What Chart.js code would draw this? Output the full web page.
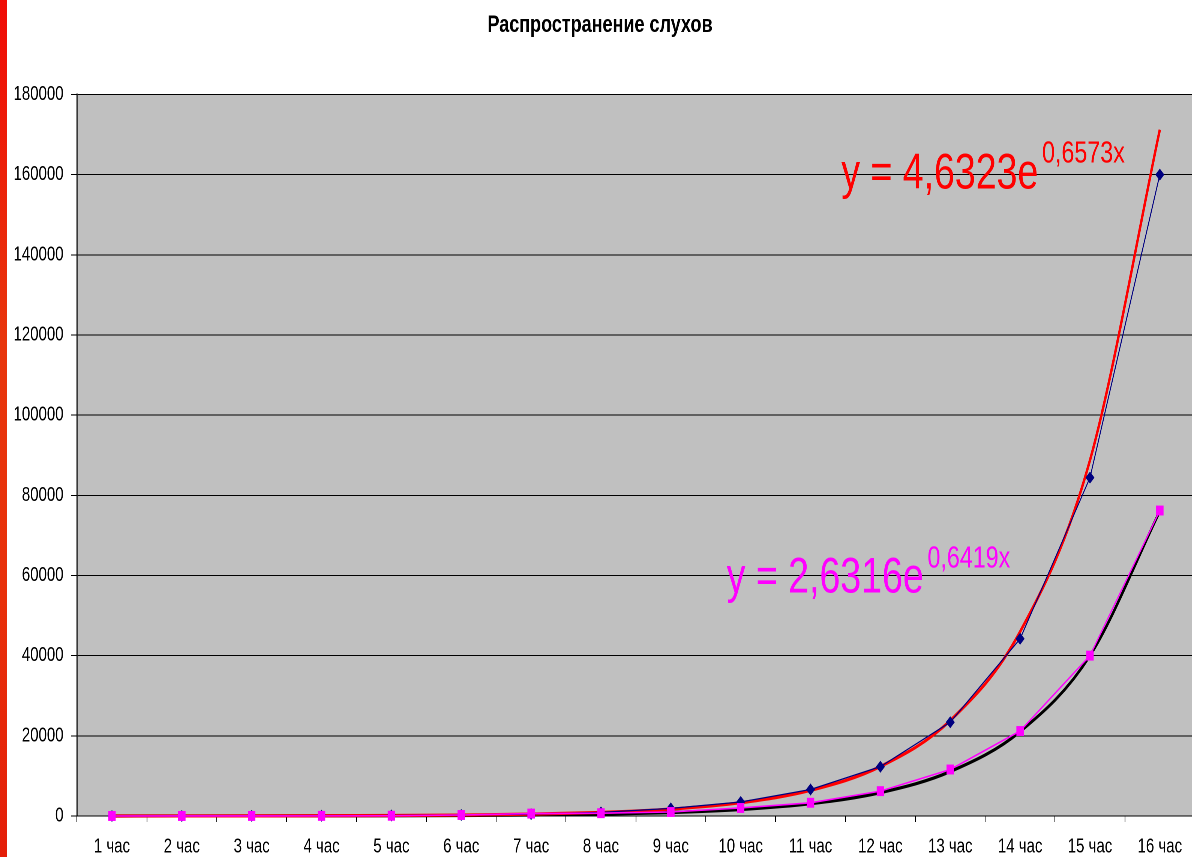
<!DOCTYPE html>
<html>
<head>
<meta charset="utf-8">
<script src="https://cdn.jsdelivr.net/npm/chart.js@4/dist/chart.umd.min.js"></script>
<style>
  html, body { margin: 0; padding: 0; background: #fff; overflow: hidden; }
  /* the original picture is stretched vertically, so the chart is drawn wider and squeezed back */
  #wrap { width: 1600px; height: 857px; transform: scaleX(0.75); transform-origin: 0 0; }
  #strip { position: fixed; left: 0; top: 0; width: 7px; height: 857px; z-index: 2;
           background: linear-gradient(#f00c06, #e8360c 40%, #e8300a 70%, #e41e08); }
</style>
</head>
<body>
<div id="strip"></div>
<div id="wrap"><canvas id="rumours"></canvas></div>
<script>
// Categories (hours)
var hours = ["1 час", "2 час", "3 час", "4 час", "5 час", "6 час", "7 час", "8 час",
             "9 час", "10 час", "11 час", "12 час", "13 час", "14 час", "15 час", "16 час"];

// Series
var blueValues = [5, 15, 30, 60, 120, 250, 480, 900, 1900, 3500, 6600, 12300, 23400, 44200, 84400, 160000];
var pinkValues = [3, 8, 16, 30, 60, 250, 600, 700, 1000, 2000, 3300, 6200, 11600, 21200, 40000, 76200];

// Trend lines as drawn (values at each hour)
var redTrend = [9, 17, 33, 64, 124, 239, 461, 890, 1718, 3315, 6398, 12346, 23824, 45973, 88713, 171190];
var blackTrend = [5, 9.5, 18, 34, 65, 124, 235, 447, 850, 1615, 3069, 5831, 11080, 21053, 40003, 76010];

// Y axis ticks
var yTicks = [0, 20000, 40000, 60000, 80000, 100000, 120000, 140000, 160000, 180000];

var FONT = "'Liberation Sans', Arial, sans-serif";

var plotBg = {
    id: 'plotBg',
    beforeDraw: function(chart) {
        var a = chart.chartArea, c = chart.ctx;
        c.save();
        c.fillStyle = '#c0c0c0';
        c.fillRect(a.left, a.top, a.right - a.left, a.bottom - a.top);
        c.restore();
    }
};

// trend equations, placed in data coordinates (category index, value)
var equations = [
    {at: [10.44, 156500], main: 'y = 4,6323e', sup: '0,6573x', color: '#ff0000', rise: 26},
    {at: [8.80, 55800], main: 'y = 2,6316e', sup: '0,6419x', color: '#ff00ff', rise: 25}
];

var eqLabels = {
    id: 'eqLabels',
    afterDatasetsDraw: function(chart) {
        var c = chart.ctx;
        c.save();
        c.textBaseline = 'alphabetic';
        c.textAlign = 'left';
        equations.forEach(function(e) {
            var px = chart.scales.x.getPixelForValue(e.at[0]);
            var py = chart.scales.y.getPixelForValue(e.at[1]);
            c.fillStyle = e.color;
            c.font = '50px ' + FONT;
            c.fillText(e.main, px, py);
            var w = c.measureText(e.main).width;
            c.font = '31px ' + FONT;
            c.fillText(e.sup, px + w + 5, py - e.rise);
        });
        c.restore();
    }
};

var ctx = document.getElementById('rumours').getContext('2d');

// dataset 0 is drawn last (on top)
var rumourChart = new Chart(ctx, {
    type: 'line',
    data: {
        labels: hours,
        datasets: [
            {
                data: pinkValues,
                borderColor: '#ff00ff',
                backgroundColor: '#ff00ff',
                borderWidth: 1.6,
                pointStyle: 'rect',
                pointRadius: 7,
                pointBorderWidth: 0,
                tension: 0,
                clip: false
            },
            {
                data: blueValues,
                borderColor: '#000080',
                backgroundColor: '#000080',
                borderWidth: 1.3,
                pointStyle: 'rectRot',
                pointRadius: 6,
                pointBorderWidth: 0,
                tension: 0,
                clip: false
            },
            {
                data: redTrend,
                borderColor: '#ff0000',
                borderWidth: 3.2,
                pointRadius: 0,
                cubicInterpolationMode: 'monotone',
                clip: false
            },
            {
                data: blackTrend,
                borderColor: '#000000',
                borderWidth: 3.2,
                pointRadius: 0,
                cubicInterpolationMode: 'monotone',
                clip: false
            }
        ]
    },
    options: {
        responsive: true,
        maintainAspectRatio: false,
        animation: false,
        devicePixelRatio: 2,
        layout: {padding: 0},
        plugins: {
            legend: {display: false},
            tooltip: {enabled: false},
            title: {
                display: true,
                text: 'Распространение слухов',
                color: '#000',
                font: {family: FONT, size: 24, weight: 'bold'},
                padding: {top: 11, bottom: 54.6}
            }
        },
        scales: {
            x: {
                offset: true,
                grid: {drawOnChartArea: false, drawTicks: true, tickLength: 6, tickColor: '#000', offset: true},
                border: {color: '#000', width: 1},
                ticks: {color: '#000', font: {family: FONT, size: 20}, padding: 13, maxRotation: 0, autoSkip: false},
                afterFit: function(s) { s.height = 41; }
            },
            y: {
                min: 0,
                max: 180000,
                afterBuildTicks: function(s) { s.ticks = yTicks.map(function(v) { return {value: v}; }); },
                grid: {color: '#000', lineWidth: 1, tickLength: 8, tickColor: '#000'},
                border: {color: '#000', width: 1.4},
                ticks: {color: '#000', font: {family: FONT, size: 20}, padding: 10,
                        callback: function(v) { return String(v); }},
                afterFit: function(s) { s.width = 102.7; }
            }
        }
    },
    plugins: [plotBg, eqLabels]
});
</script>
</body>
</html>
